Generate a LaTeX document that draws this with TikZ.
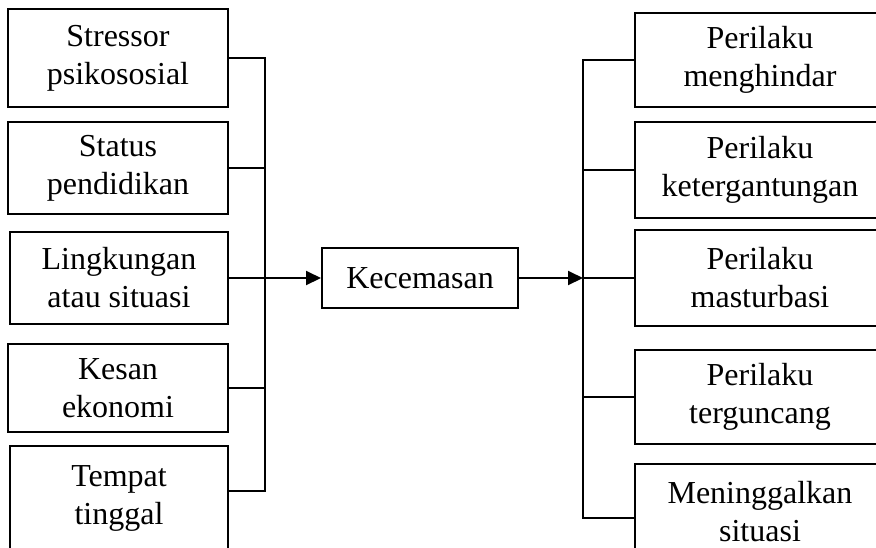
\documentclass[tikz,border=0pt]{standalone}
\usepackage{fontspec}
\setmainfont{Liberation Serif}
\usetikzlibrary{arrows.meta}

\begin{document}
\begin{tikzpicture}[x=0.5pt,y=-0.5pt,line width=1pt,
    teks/.style={inner sep=0pt,align=center,font=\fontsize{16}{19}\selectfont},
    kotak/.style={draw,teks},
    kanankotak/.style={draw,minimum width=140pt,label={[teks,xshift=-7.5pt]center:#1}},
    panah/.style={-{Triangle[length=7.5pt,width=7pt]}}]
    \useasboundingbox (0,0) rectangle (876,547);
    \node[kotak,minimum width=110pt,minimum height=49pt] (a) at (118,58) {Stressor\\psikososial};
    \node[kotak,minimum width=110pt,minimum height=46pt] (b) at (118,168) {Status\\pendidikan};
    \node[kotak,minimum width=109pt,minimum height=46pt] (c) at (119,278) {Lingkungan\\atau situasi};
    \node[kotak,minimum width=110pt,minimum height=44pt] (d) at (118,388) {Kesan\\ekonomi};
    \node[kotak,minimum width=109pt,minimum height=52pt] (e) at (119,498) {Tempat\\tinggal};
    \node[kotak,minimum width=98pt,minimum height=30pt] (k) at (420,278) {Kecemasan};
    \node[kanankotak={Perilaku\\menghindar},minimum height=47pt] (p) at (775,60) {};
    \node[kanankotak={Perilaku\\ketergantungan},minimum height=48pt] (q) at (775,170) {};
    \node[kanankotak={Perilaku\\masturbasi},minimum height=48pt] (r) at (775,278) {};
    \node[kanankotak={Perilaku\\terguncang},minimum height=47pt] (s) at (775,397) {};
    \node[kanankotak={Meninggalkan\\situasi},minimum height=48pt] (t) at (775,512) {};
    \coordinate (kiri) at (265,0);
    \coordinate (kanan) at (583,0);
    \coordinate (eb) at ([yshift=3.5pt]e.east);
    \coordinate (tb) at ([yshift=-3pt]t.west);
    \draw (a.east) -- (a.east -| kiri) -- (eb -| kiri) -- (eb);
    \draw (b.east) -- (b.east -| kiri);
    \draw (d.east) -- (d.east -| kiri);
    \draw[panah] (c.east) -- (k.west);
    \draw[panah] (k.east) -- (k.east -| kanan);
    \draw (p.west) -- (p.west -| kanan) -- (tb -| kanan) -- (tb);
    \draw (q.west) -- (q.west -| kanan);
    \draw (r.west) -- (r.west -| kanan);
    \draw (s.west) -- (s.west -| kanan);
\end{tikzpicture}
\end{document}
